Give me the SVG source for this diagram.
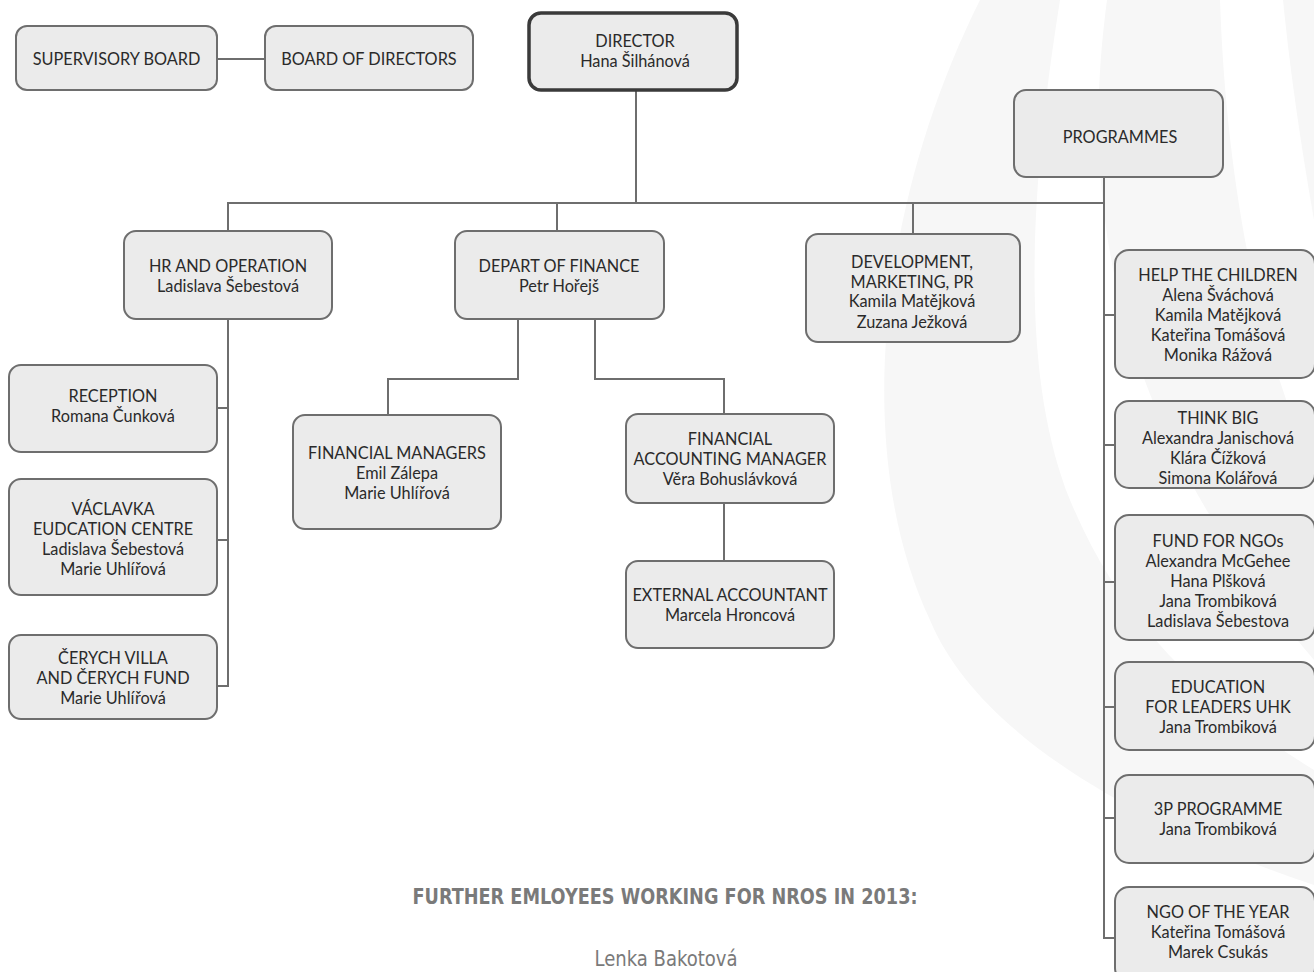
<svg xmlns="http://www.w3.org/2000/svg" width="1314" height="972" viewBox="0 0 1314 972">
<style>
.bg{fill:#f7f7f7}
.box{fill:#ebebeb;stroke:#6e6e6e;stroke-width:2}
.dir{fill:#ebebeb;stroke:#3a3a3a;stroke-width:3.5}
.t{font-family:Lato,"Open Sans","Liberation Sans",sans-serif;font-size:16.3px;fill:#2a2a2a;text-anchor:middle}
.ln{fill:none;stroke:#6e6e6e;stroke-width:2}
.h{font-family:"DejaVu Sans","Liberation Sans",sans-serif;font-stretch:condensed;font-weight:bold;font-size:21px;fill:#7a7a7a;text-anchor:middle}
.n{font-family:"DejaVu Sans","Liberation Sans",sans-serif;font-stretch:condensed;font-size:21px;fill:#7a7a7a;text-anchor:middle}
</style>
<rect width="1314" height="972" fill="#ffffff"/>
<g id="background">
<path class="bg" d="M980,0 C880,200 850,450 930,620 C980,740 1150,830 1314,885 L1314,770 C1200,700 1120,620 1070,500 C1030,400 1020,250 1060,0 Z"/>
<path class="bg" d="M1107,0 C1080,200 1110,420 1314,660 L1314,470 C1250,330 1225,150 1220,0 Z"/>
<path class="bg" d="M1283,0 L1314,0 L1314,220 C1300,140 1290,70 1283,0 Z"/>
</g>
<g id="connectors">
<path class="ln" d="M217,59 H265"/>
<path class="ln" d="M636,90 V203"/>
<path class="ln" d="M228,231 V203 H1104"/>
<path class="ln" d="M557,203 V231"/>
<path class="ln" d="M913,203 V234"/>
<path class="ln" d="M1104,177 V938 H1115"/>
<path class="ln" d="M1104,315 H1115"/>
<path class="ln" d="M1104,445 H1115"/>
<path class="ln" d="M1104,582 H1115"/>
<path class="ln" d="M1104,707 H1115"/>
<path class="ln" d="M1104,818 H1115"/>
<path class="ln" d="M228,319 V686 H217"/>
<path class="ln" d="M228,408 H217"/>
<path class="ln" d="M228,540 H217"/>
<path class="ln" d="M518,319 V379 H388 V415"/>
<path class="ln" d="M595,319 V379 H724 V414"/>
<path class="ln" d="M724,503 V561"/>
</g>
<g id="supervisory-board"><rect class="box" x="16" y="26" width="201" height="64" rx="11"/><text class="t" x="116.5" y="64.5">SUPERVISORY BOARD</text></g>
<g id="board-of-directors"><rect class="box" x="265" y="26" width="208" height="64" rx="11"/><text class="t" x="369" y="64.5">BOARD OF DIRECTORS</text></g>
<g id="director"><rect class="dir" x="529" y="13" width="208" height="77" rx="12"/><text class="t" x="635" y="47">DIRECTOR</text><text class="t" x="635" y="67">Hana Šilhánová</text></g>
<g id="programmes"><rect class="box" x="1014" y="90" width="209" height="87" rx="12"/><text class="t" x="1120" y="143">PROGRAMMES</text></g>
<g id="hr-operation"><rect class="box" x="124" y="231" width="208" height="88" rx="12"/><text class="t" x="228" y="272">HR AND OPERATION</text><text class="t" x="228" y="292">Ladislava Šebestová</text></g>
<g id="finance"><rect class="box" x="455" y="231" width="209" height="88" rx="12"/><text class="t" x="559" y="272">DEPART OF FINANCE</text><text class="t" x="559" y="292">Petr Hořejš</text></g>
<g id="development"><rect class="box" x="806" y="234" width="214" height="108" rx="12"/><text class="t" x="912" y="268">DEVELOPMENT,</text><text class="t" x="912" y="288">MARKETING, PR</text><text class="t" x="912" y="307">Kamila Matějková</text><text class="t" x="912" y="328">Zuzana Ježková</text></g>
<g id="reception"><rect class="box" x="9" y="365" width="208" height="87" rx="12"/><text class="t" x="113" y="402">RECEPTION</text><text class="t" x="113" y="422">Romana Čunková</text></g>
<g id="vaclavka"><rect class="box" x="9" y="479" width="208" height="116" rx="12"/><text class="t" x="113" y="515">VÁCLAVKA</text><text class="t" x="113" y="535">EUDCATION CENTRE</text><text class="t" x="113" y="555">Ladislava Šebestová</text><text class="t" x="113" y="575">Marie Uhlířová</text></g>
<g id="cerych"><rect class="box" x="9" y="635" width="208" height="84" rx="12"/><text class="t" x="113" y="664">ČERYCH VILLA</text><text class="t" x="113" y="684">AND ČERYCH FUND</text><text class="t" x="113" y="704">Marie Uhlířová</text></g>
<g id="financial-managers"><rect class="box" x="293" y="415" width="208" height="114" rx="12"/><text class="t" x="397" y="459">FINANCIAL MANAGERS</text><text class="t" x="397" y="479">Emil Zálepa</text><text class="t" x="397" y="499">Marie Uhlířová</text></g>
<g id="accounting-manager"><rect class="box" x="626" y="414" width="208" height="89" rx="12"/><text class="t" x="730" y="445">FINANCIAL</text><text class="t" x="730" y="465">ACCOUNTING MANAGER</text><text class="t" x="730" y="485">Věra Bohuslávková</text></g>
<g id="external-accountant"><rect class="box" x="626" y="561" width="208" height="87" rx="12"/><text class="t" x="730" y="601">EXTERNAL ACCOUNTANT</text><text class="t" x="730" y="621">Marcela Hroncová</text></g>
<g id="help-the-children"><rect class="box" x="1115" y="250" width="200" height="128" rx="14"/><text class="t" x="1218" y="281">HELP THE CHILDREN</text><text class="t" x="1218" y="301">Alena Šváchová</text><text class="t" x="1218" y="321">Kamila Matějková</text><text class="t" x="1218" y="341">Kateřina Tomášová</text><text class="t" x="1218" y="361">Monika Rážová</text></g>
<g id="think-big"><rect class="box" x="1115" y="401" width="200" height="87" rx="14"/><text class="t" x="1218" y="424">THINK BIG</text><text class="t" x="1218" y="444">Alexandra Janischová</text><text class="t" x="1218" y="464">Klára Čížková</text><text class="t" x="1218" y="484">Simona Kolářová</text></g>
<g id="fund-for-ngos"><rect class="box" x="1115" y="515" width="200" height="125" rx="14"/><text class="t" x="1218" y="547">FUND FOR NGOs</text><text class="t" x="1218" y="567">Alexandra McGehee</text><text class="t" x="1218" y="587">Hana Plšková</text><text class="t" x="1218" y="607">Jana Trombiková</text><text class="t" x="1218" y="627">Ladislava Šebestova</text></g>
<g id="education-for-leaders"><rect class="box" x="1115" y="662" width="200" height="88" rx="14"/><text class="t" x="1218" y="693">EDUCATION</text><text class="t" x="1218" y="713">FOR LEADERS UHK</text><text class="t" x="1218" y="733">Jana Trombiková</text></g>
<g id="3p-programme"><rect class="box" x="1115" y="775" width="200" height="88" rx="14"/><text class="t" x="1218" y="815">3P PROGRAMME</text><text class="t" x="1218" y="835">Jana Trombiková</text></g>
<g id="ngo-of-the-year"><rect class="box" x="1115" y="887" width="200" height="95" rx="14"/><text class="t" x="1218" y="918">NGO OF THE YEAR</text><text class="t" x="1218" y="938">Kateřina Tomášová</text><text class="t" x="1218" y="958">Marek Csukás</text></g>
<g id="further-employees"><text class="h" x="665" y="904" textLength="505" lengthAdjust="spacingAndGlyphs">FURTHER EMLOYEES WORKING FOR NROS IN 2013:</text><text class="n" x="666" y="966" textLength="143" lengthAdjust="spacingAndGlyphs">Lenka Bakotová</text></g>
</svg>
